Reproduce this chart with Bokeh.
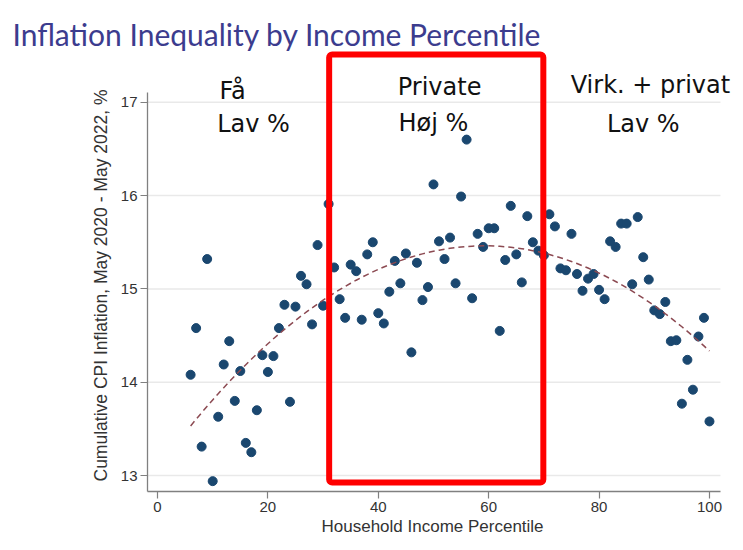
import numpy as np
from bokeh.plotting import figure
from bokeh.models import Label, BoxAnnotation, FixedTicker, Range1d, Title
from bokeh.embed import file_html
from bokeh.resources import INLINE

# ---- data ----
percentile = list(range(6, 101))
inflation = [
    14.08, 14.58, 13.31, 15.32, 12.94, 13.63, 14.19, 14.44, 13.80, 14.12,   # 6-15
    13.35, 13.25, 13.70, 14.29, 14.11, 14.28, 14.58, 14.83, 13.79, 14.81,   # 16-25
    15.14, 15.05, 14.62, 15.47, 14.82, 15.91, 15.23, 14.89, 14.69, 15.26,   # 26-35
    15.19, 14.67, 15.37, 15.50, 14.74, 14.63, 14.97, 15.30, 15.06, 15.38,   # 36-45
    14.32, 15.28, 14.88, 15.02, 16.12, 15.51, 15.32, 15.55, 15.06, 15.99,   # 46-55
    16.60, 14.90, 15.59, 15.45, 15.65, 15.65, 14.55, 15.31, 15.89, 15.37,   # 56-65
    15.07, 15.78, 15.50, 15.41, 15.36, 15.80, 15.67, 15.22, 15.20, 15.59,   # 66-75
    15.16, 14.98, 15.11, 15.16, 14.99, 14.89, 15.51, 15.45, 15.70, 15.70,   # 76-85
    15.05, 15.77, 15.34, 15.10, 14.77, 14.73, 14.86, 14.44, 14.45, 13.77,   # 86-95
    14.24, 13.92, 14.49, 14.69, 13.58,                                      # 96-100
]
x_ticks = [0, 20, 40, 60, 80, 100]
y_ticks = [13, 14, 15, 16, 17]
title_text = "Inflation Inequality by Income Percentile"
x_label = "Household Income Percentile"
y_label = "Cumulative CPI Inflation, May 2020 - May 2022, %"
highlight_range = (31.1, 69.9)   # highlighted percentile band

# quadratic fit computed from the data
coef = np.polyfit(percentile, inflation, 2)
fit_x = np.array(percentile, dtype=float)
fit_y = np.polyval(coef, fit_x)

X0, X_AXIS_END, X1 = -1.81, 101.99, 105.62
Y0, Y_AXIS_END, Y1 = 12.829, 17.105, 17.555

p = figure(width=743, height=550, output_backend="svg", toolbar_location=None,
           x_range=Range1d(X0, X1), y_range=Range1d(Y0, Y1),
           min_border_left=147, min_border_right=3, min_border_top=50,
           min_border_bottom=59)
p.outline_line_color = None
p.background_fill_color = "white"
p.border_fill_color = "white"

p.xgrid.grid_line_color = None
p.ygrid.grid_line_color = None
# horizontal grid lines at the y ticks, ending where the x axis ends
p.segment(x0=[X0] * len(y_ticks), x1=[X_AXIS_END] * len(y_ticks),
          y0=y_ticks, y1=y_ticks, line_color="#e9e9e9", line_width=1.5,
          level="underlay")

p.xaxis.ticker = FixedTicker(ticks=x_ticks)
p.yaxis.ticker = FixedTicker(ticks=y_ticks)
p.yaxis.bounds = (Y0, Y_AXIS_END)
p.xaxis.bounds = (X0, X_AXIS_END)

for ax in (p.xaxis[0], p.yaxis[0]):
    ax.axis_line_color = "#808080"
    ax.axis_line_width = 1.3
    ax.major_tick_line_color = "#808080"
    ax.major_tick_line_width = 1.2
    ax.major_tick_out = 7
    ax.major_tick_in = 0
    ax.minor_tick_out = 0
    ax.minor_tick_in = 0
    ax.major_label_text_font = "Liberation Sans"
    ax.major_label_text_font_size = "15px"
    ax.major_label_text_color = "#333333"

p.xaxis.major_label_standoff = 3
p.yaxis.major_label_standoff = 3
p.yaxis.major_label_orientation = "horizontal"

# axis titles, centred on the drawn axis lines
xt = Title(text=x_label, align="left", offset=174, standoff=1,
           text_font="Liberation Sans", text_font_size="17px",
           text_font_style="normal", text_color="#333333")
p.add_layout(xt, "below")
yt = Title(text=y_label, align="left", offset=10, standoff=13,
           text_font="Liberation Sans", text_font_size="17.5px",
           text_font_style="normal", text_color="#333333")
p.add_layout(yt, "left")

p.scatter(percentile, inflation, size=9, color="#1a476f", line_color="#1a476f")
p.line(fit_x, fit_y, line_color="#8c4a52", line_width=1.5, line_dash="6 4")

box = BoxAnnotation(left=highlight_range[0], right=highlight_range[1],
                    bottom=12.925, top=17.512, fill_color=None, fill_alpha=0,
                    line_color="#ff0000", line_alpha=1.0, line_width=6,
                    border_radius=3)
p.add_layout(box)

ann_font = "DejaVu Sans"
for txt, xx, yy in [("Få", 13.6, 17.116), ("Lav %", 17.4, 16.765),
                    ("Private", 51.1, 17.159), ("Høj %", 50.0, 16.776),
                    ("Virk. + privat", 89.3, 17.188), ("Lav %", 88.0, 16.765)]:
    p.add_layout(Label(x=xx, y=yy, text=txt, text_font=ann_font,
                       text_font_size="24px", text_color="#111111",
                       text_align="center", text_baseline="alphabetic"))

p.title.text = title_text
p.title.text_font = "Lato"
p.title.text_font_size = "30px"
p.title.text_font_style = "normal"
p.title.text_color = "#3c3c8e"
p.title.align = "left"
p.title.offset = -135
p.title.standoff = -3

open("out.html", "w").write(file_html(p, INLINE))
